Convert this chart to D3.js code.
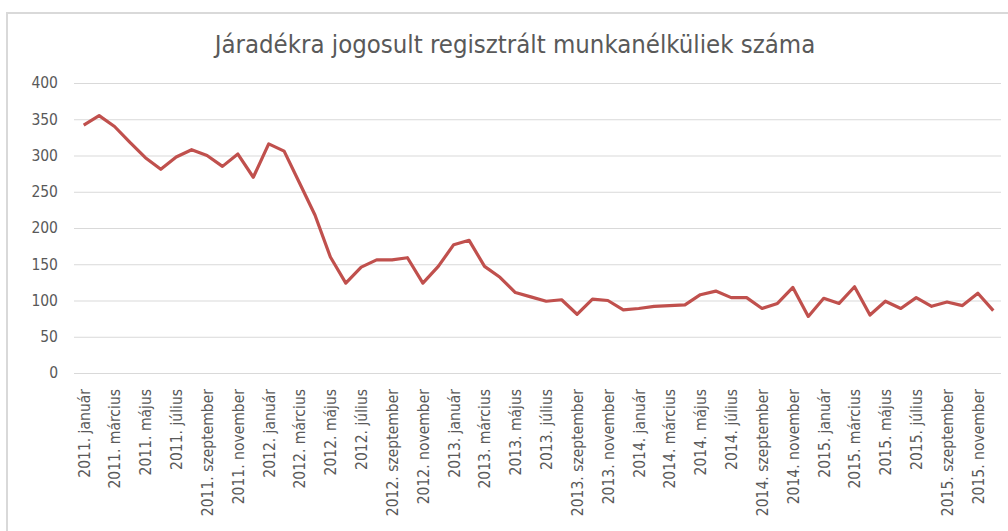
<!DOCTYPE html>
<html>
<head>
<meta charset="utf-8">
<script src="https://cdn.jsdelivr.net/npm/d3@7"></script>
<style>
  body { margin: 0; background: #fff; }
  svg { display: block; }
</style>
</head>
<body>
<div id="chart"></div>
<script>
// data (thousand persons)
var years = [2011, 2012, 2013, 2014, 2015];
var monthNames = ["január", "február", "március", "április", "május", "június",
    "július", "augusztus", "szeptember", "október", "november", "december"];
var values = [
    342, 355, 340, 318, 297, 281, 298, 308, 300, 285, 302, 270,
    316, 306, 262, 218, 160, 124, 146, 156, 156, 159, 124, 147,
    177, 183, 147, 132, 111, 105, 99, 101, 81, 102, 100, 87,
    89, 92, 93, 94, 108, 113, 104, 104, 89, 96, 118, 78,
    103, 96, 119, 80, 99, 89, 104, 92, 98, 93, 110, 86
];
var yTicks = [0, 50, 100, 150, 200, 250, 300, 350, 400];
var title = "Járadékra jogosult regisztrált munkanélküliek száma";

var categories = [];
years.forEach(function (y) {
    monthNames.forEach(function (m) { categories.push(y + ". " + m); });
});
var data = categories.map(function (c, i) { return { month: c, value: values[i] }; });

var W = 1008, H = 531;
var plot = { left: 76, right: 1001, top: 83, bottom: 373 };
var fontFam = "'Liberation Sans Narrow', 'DejaVu Sans Condensed', 'Liberation Sans', sans-serif";

var svg = d3.select("#chart").append("svg")
    .attr("width", W)
    .attr("height", H);

// chart frame
svg.append("path")
    .attr("d", "M7,531V13H1008")
    .attr("fill", "none")
    .attr("stroke", "#d9d9d9")
    .attr("stroke-width", 2);

svg.append("text")
    .attr("x", 515)
    .attr("y", 53)
    .attr("text-anchor", "middle")
    .attr("font-family", fontFam)
    .attr("font-size", "25.5px")
    .attr("fill", "#595959")
    .text(title);

var x = d3.scalePoint()
    .domain(categories)
    .range([plot.left, plot.right])
    .padding(0.5);

var y = d3.scaleLinear()
    .domain([0, 400])
    .range([plot.bottom, plot.top]);

// gridlines + y labels
var axisY = svg.append("g")
    .attr("transform", "translate(" + (plot.left - 2) + ",0)")
    .call(d3.axisLeft(y).tickValues(yTicks).tickSize(-(plot.right - plot.left + 2)).tickPadding(16));

axisY.select(".domain").remove();
axisY.selectAll("line")
    .attr("stroke", "#d9d9d9");
axisY.selectAll("text")
    .attr("fill", "#595959")
    .attr("font-size", "15.5px")
    .attr("font-family", fontFam);

// x labels, every second month
var axisX = svg.append("g")
    .attr("transform", "translate(0," + plot.bottom + ")")
    .call(d3.axisBottom(x)
        .tickValues(categories.filter(function (d, i) { return i % 2 === 0; }))
        .tickSize(0));

axisX.select(".domain").remove();
axisX.selectAll("text")
    .attr("fill", "#595959")
    .attr("font-size", "15.5px")
    .attr("font-family", fontFam)
    .attr("text-anchor", "end")
    .attr("dy", "0.35em")
    .attr("transform", "translate(0,16) rotate(-90)")
    .attr("x", 0)
    .attr("y", 0);

var line = d3.line()
    .x(function (d) { return x(d.month); })
    .y(function (d) { return y(d.value); });

svg.append("path")
    .datum(data)
    .attr("fill", "none")
    .attr("stroke", "#c0504d")
    .attr("stroke-width", 3.2)
    .attr("stroke-linejoin", "round")
    .attr("d", line);
</script>
</body>
</html>
